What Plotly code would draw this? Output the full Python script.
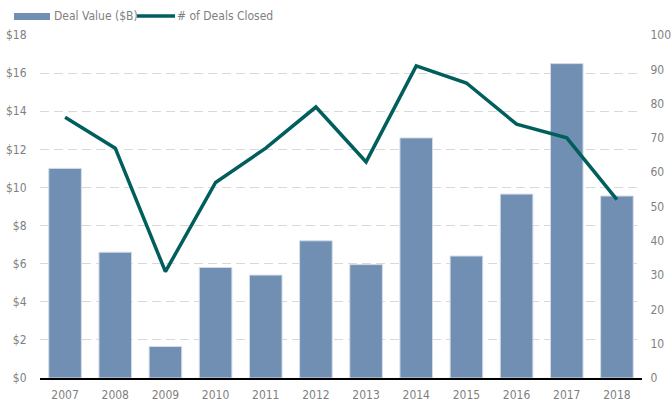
import plotly.graph_objects as go

years = ["2007", "2008", "2009", "2010", "2011", "2012", "2013", "2014", "2015", "2016", "2017", "2018"]
deal_value = [11.0, 6.6, 1.65, 5.8, 5.4, 7.2, 5.95, 12.6, 6.4, 9.65, 16.5, 9.55]
deals_closed = [76, 67, 31, 57, 67, 79, 63, 91, 86, 74, 70, 52]
left_ticks = [0, 2, 4, 6, 8, 10, 12, 14, 16, 18]
left_labels = ["$" + str(v) for v in left_ticks]
right_ticks = [0, 10, 20, 30, 40, 50, 60, 70, 80, 90, 100]

BAR = "#718fb2"
LINE = "#005f5c"
FONT = "DejaVu Sans Condensed, Liberation Sans Narrow, Lato, sans-serif"
GRAY = "#7f7f7f"
FS = 12

fig = go.Figure()
fig.add_trace(go.Bar(x=years, y=deal_value, name="Deal Value ($B)",
                     marker=dict(color=BAR, line=dict(color="#d3dce8", width=1)),
                     showlegend=False))
fig.add_trace(go.Scatter(x=years, y=deals_closed, name="# of Deals Closed", yaxis="y2",
                         mode="lines", line=dict(color=LINE, width=3.5), showlegend=False))

W, H = 672, 404
L, R, T, B = 40, 30, 35, 26
pw, ph = W - L - R, H - T - B
def px(x): return (x - L) / pw
def py(y): return (H - B - y) / ph

fig.add_shape(type="rect", xref="paper", yref="paper",
              x0=px(14), x1=px(50), y0=py(20), y1=py(13),
              fillcolor=BAR, line=dict(width=0))
fig.add_annotation(xref="paper", yref="paper", x=px(52), y=py(16), xanchor="left", yanchor="middle",
                   text="Deal Value ($B)", showarrow=False, font=dict(family=FONT, size=FS, color=GRAY))
fig.add_shape(type="line", xref="paper", yref="paper",
              x0=px(137), x1=px(175), y0=py(16), y1=py(16),
              line=dict(color=LINE, width=3.5))
fig.add_annotation(xref="paper", yref="paper", x=px(175), y=py(16), xanchor="left", yanchor="middle",
                   text="# of Deals Closed", showarrow=False, font=dict(family=FONT, size=FS, color=GRAY))

fig.update_layout(
    width=W, height=H,
    margin=dict(l=L, r=R, t=T, b=B),
    paper_bgcolor="white", plot_bgcolor="white",
    bargap=0.35,
    font=dict(family=FONT, size=FS, color=GRAY),
    xaxis=dict(type="category", showline=True, linecolor="#000000", linewidth=1.5,
               showgrid=False, ticks="outside", ticklen=5, tickcolor="rgba(0,0,0,0)",
               automargin=False,
               tickfont=dict(family=FONT, size=FS, color=GRAY)),
    yaxis=dict(range=[0, 18], tickvals=left_ticks, ticktext=left_labels,
               showgrid=True, gridcolor="#d9d9d9", gridwidth=1.2, griddash="9px,5px",
               zeroline=False, showline=False, automargin=False,
               ticks="outside", ticklen=10, tickcolor="rgba(0,0,0,0)",
               tickfont=dict(family=FONT, size=FS, color=GRAY)),
    yaxis2=dict(range=[0, 100], tickvals=right_ticks, overlaying="y", side="right",
                showgrid=False, zeroline=False, showline=False, automargin=False,
                ticks="outside", ticklen=5, tickcolor="rgba(0,0,0,0)",
                tickfont=dict(family=FONT, size=FS, color=GRAY)),
)

fig.write_html("out.html")
